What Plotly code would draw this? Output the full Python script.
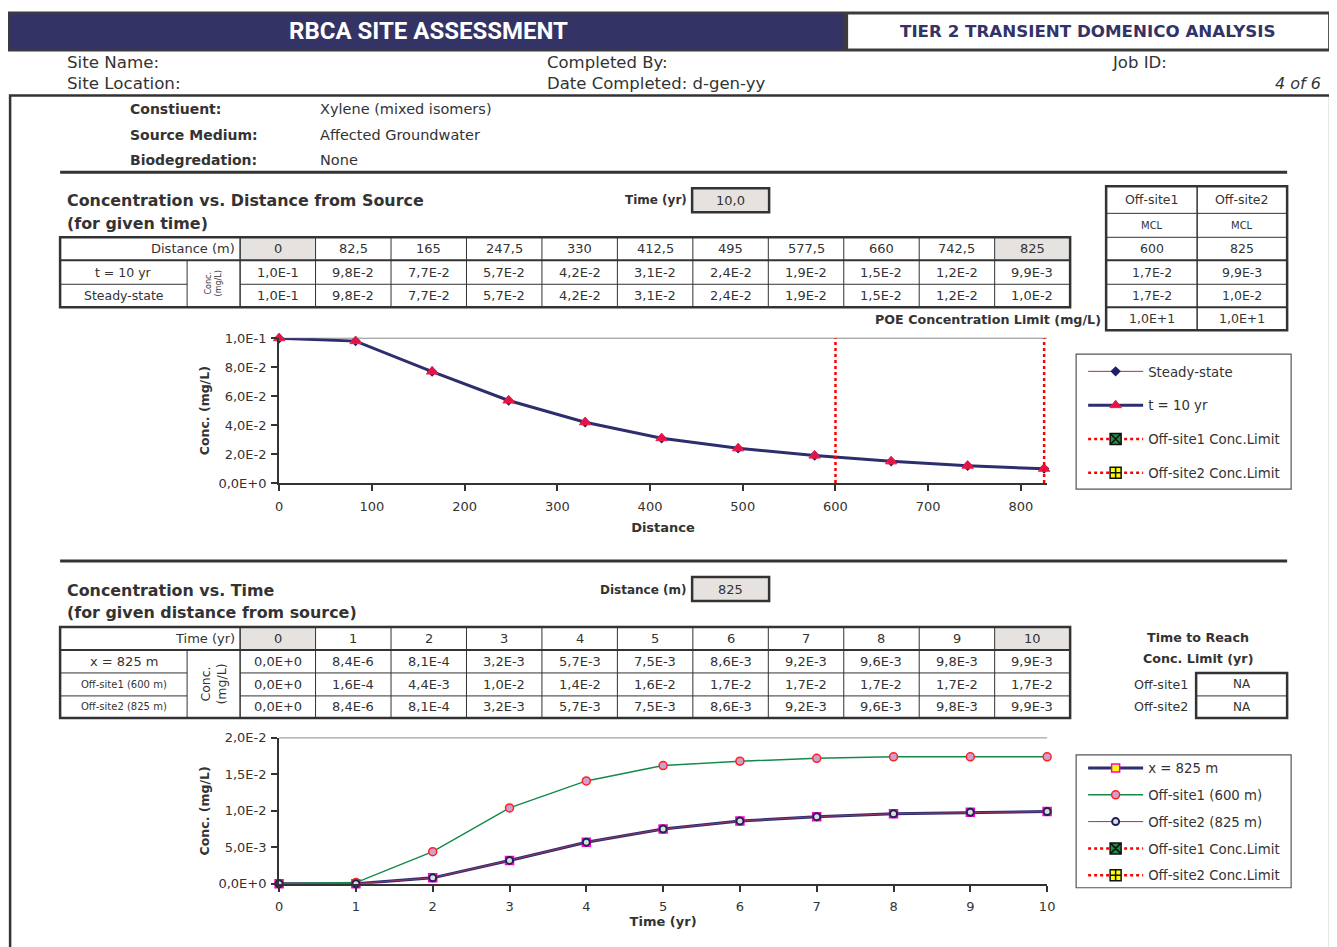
import math
import plotly.graph_objects as go

W, H = 1337, 947
# the page shows the figure with a small offset/scale; map target pixels to figure pixels
SX, BX = 0.991, 11.9
SY, BY = 0.985, 14.5

# ---------------- data ----------------
constituent = "Xylene (mixed isomers)"
source_medium = "Affected Groundwater"
biodegradation = "None"
given_time_yr = 10.0
given_distance_m = 825

distances_m = [0, 82.5, 165, 247.5, 330, 412.5, 495, 577.5, 660, 742.5, 825]
conc_t10 = [1.0e-1, 9.8e-2, 7.7e-2, 5.7e-2, 4.2e-2, 3.1e-2, 2.4e-2, 1.9e-2, 1.5e-2, 1.2e-2, 9.9e-3]
conc_steady = [1.0e-1, 9.8e-2, 7.7e-2, 5.7e-2, 4.2e-2, 3.1e-2, 2.4e-2, 1.9e-2, 1.5e-2, 1.2e-2, 1.0e-2]

offsite_names = ["Off-site1", "Off-site2"]
offsite_basis = ["MCL", "MCL"]
offsite_dist = [600, 825]
offsite_conc_t = [1.7e-2, 9.9e-3]
offsite_conc_ss = [1.7e-2, 1.0e-2]
poe_limit = [1.0e1, 1.0e1]
time_to_reach = ["NA", "NA"]

times_yr = [0, 1, 2, 3, 4, 5, 6, 7, 8, 9, 10]
conc_x825 = [0.0, 8.4e-6, 8.1e-4, 3.2e-3, 5.7e-3, 7.5e-3, 8.6e-3, 9.2e-3, 9.6e-3, 9.8e-3, 9.9e-3]
conc_off1 = [0.0, 1.6e-4, 4.4e-3, 1.04e-2, 1.41e-2, 1.62e-2, 1.68e-2, 1.72e-2, 1.74e-2, 1.74e-2, 1.74e-2]
conc_off2 = [0.0, 8.4e-6, 8.1e-4, 3.2e-3, 5.7e-3, 7.5e-3, 8.6e-3, 9.2e-3, 9.6e-3, 9.8e-3, 9.9e-3]

dist_ticks = [0, 100, 200, 300, 400, 500, 600, 700, 800]
conc_ticks1 = [0, 0.02, 0.04, 0.06, 0.08, 0.1]
time_ticks = [0, 1, 2, 3, 4, 5, 6, 7, 8, 9, 10]
conc_ticks2 = [0, 0.005, 0.01, 0.015, 0.02]

# ---------------- helpers ----------------
FONT = "DejaVu Sans"
TXT = "#333333"
GRAY = "#E6E2DF"
NAVY = "#333366"


def sci(v):
    if v == 0:
        return "0,0E+0"
    e = math.floor(math.log10(abs(v)))
    m = round(v / 10 ** e, 1)
    if abs(m) >= 10:
        m /= 10
        e += 1
    return f"{m:.1f}".replace(".", ",") + "E" + ("+" if e >= 0 else "-") + str(abs(e))


def num(v):
    return f"{v:g}".replace(".", ",")


def X(x):
    return ((x - BX) / SX) / W


def Y(y):
    return 1 - ((y - BY) / SY) / H


shapes = []
annotations = []


def rect(x0, y0, x1, y1, fill=None, lw=0, lc="#333333"):
    shapes.append(dict(type="rect", xref="paper", yref="paper",
                       x0=X(x0), x1=X(x1), y0=Y(y1), y1=Y(y0),
                       fillcolor=fill if fill else "rgba(0,0,0,0)",
                       line=dict(width=lw, color=lc)))


def hline(x0, x1, y, lw=1, color="#333333"):
    shapes.append(dict(type="line", xref="paper", yref="paper",
                       x0=X(x0), x1=X(x1), y0=Y(y), y1=Y(y),
                       line=dict(width=lw, color=color)))


def vline(x, y0, y1, lw=1, color="#333333"):
    shapes.append(dict(type="line", xref="paper", yref="paper",
                       x0=X(x), x1=X(x), y0=Y(y0), y1=Y(y1),
                       line=dict(width=lw, color=color)))


def txt(x, y, s, size=13, bold=False, anchor="left", color=TXT, italic=False,
        family=FONT, angle=0):
    if bold:
        s = f"<b>{s}</b>"
    if italic:
        s = f"<i>{s}</i>"
    annotations.append(dict(xref="paper", yref="paper", x=X(x), y=Y(y), text=s,
                            showarrow=False, xanchor=anchor, yanchor="middle",
                            textangle=angle,
                            font=dict(size=size, color=color, family=family)))


# ---------------- page header ----------------
rect(7, 11, 1331, 51, fill="#3c3c3c")
rect(9, 13, 844, 49, fill=NAVY)
rect(848, 14, 1328, 48, fill="white")
txt(428, 31, "RBCA SITE ASSESSMENT", size=24, bold=True, anchor="center",
    color="white", family="Roboto")
txt(1088, 31, "TIER 2 TRANSIENT DOMENICO ANALYSIS", size=16.7, bold=True,
    anchor="center", color=NAVY)

txt(65, 62, "Site Name:", size=16.7)
txt(65, 83, "Site Location:", size=16.7)
txt(545, 62, "Completed By:", size=16.5)
txt(545, 83, "Date Completed: d-gen-yy", size=16.5)
txt(1110, 62, "Job ID:", size=16.5)
txt(1323, 83, "4 of 6", size=16, italic=True, anchor="right")

# main frame
rect(10, 95, 1330, 1000, lw=2.5, lc="#333333")

# info block
txt(128, 109, "Constiuent:", size=14, bold=True)
txt(128, 135, "Source Medium:", size=14, bold=True)
txt(128, 160, "Biodegredation:", size=14, bold=True)
txt(318, 109, constituent, size=14.5)
txt(318, 135, source_medium, size=14.5)
txt(318, 160, biodegradation, size=14.5)

hline(60, 1287, 172, lw=3)
hline(60, 1287, 561, lw=3)

# ---------------- section 1 ----------------
txt(65, 200, "Concentration vs. Distance from Source", size=15.9, bold=True)
txt(65, 223, "(for given time)", size=15.9, bold=True)
txt(689, 200, "Time (yr)", size=12, bold=True, anchor="right")
rect(692, 188, 769, 212, fill=GRAY, lw=2.5)
txt(730.5, 200, f"{given_time_yr:.1f}".replace(".", ","), size=13, anchor="center")

TX0, TSPL, TD0, TX1 = 60, 187, 240, 1070
ncol = len(distances_m)
cw = (TX1 - TD0) / ncol
r1 = [237, 260, 284, 307]
rect(TD0, r1[0], TD0 + cw, r1[1], fill=GRAY)
rect(TX1 - cw, r1[0], TX1, r1[1], fill=GRAY)
hline(TX0, TX1, r1[1], lw=2)
hline(TX0, TSPL, r1[2], lw=1)
hline(TD0, TX1, r1[2], lw=1)
vline(TSPL, r1[1], r1[3], lw=1)
vline(TD0, r1[0], r1[3], lw=1.5)
for k in range(1, ncol):
    vline(TD0 + k * cw, r1[0], r1[3], lw=1)
rect(TX0, r1[0], TX1, r1[3], lw=2.5)
txt(TD0 - 3, (r1[0] + r1[1]) / 2, "Distance (m)", size=13, anchor="right")
txt((TX0 + TSPL) / 2, (r1[1] + r1[2]) / 2, f"t = {given_time_yr:g} yr", size=12.5, anchor="center")
txt((TX0 + TSPL) / 2, (r1[2] + r1[3]) / 2, "Steady-state", size=12.5, anchor="center")
txt((TSPL + TD0) / 2, (r1[1] + r1[3]) / 2, "Conc.<br>(mg/L)", size=8, anchor="center", angle=-90)
for k in range(ncol):
    cx = TD0 + (k + 0.5) * cw
    txt(cx, (r1[0] + r1[1]) / 2, num(distances_m[k]), size=13, anchor="center")
    txt(cx, (r1[1] + r1[2]) / 2, sci(conc_t10[k]), size=13, anchor="center")
    txt(cx, (r1[2] + r1[3]) / 2, sci(conc_steady[k]), size=13, anchor="center")

# off-site table
ox = [1106, 1197, 1287]
oy = [186, 213, 237, 260, 284, 307, 330]
for y in oy[1:-1]:
    hline(ox[0], ox[2], y, lw=2 if y in (260, 307) else 1)
vline(ox[1], oy[0], oy[-1], lw=1.5)
rect(ox[0], oy[0], ox[2], oy[-1], lw=2.5)
for i in range(2):
    cx = (ox[i] + ox[i + 1]) / 2
    txt(cx, (oy[0] + oy[1]) / 2, offsite_names[i], size=12.5, anchor="center")
    txt(cx, (oy[1] + oy[2]) / 2, offsite_basis[i], size=10, anchor="center")
    txt(cx, (oy[2] + oy[3]) / 2, num(offsite_dist[i]), size=12.5, anchor="center")
    txt(cx, (oy[3] + oy[4]) / 2, sci(offsite_conc_t[i]), size=12.5, anchor="center")
    txt(cx, (oy[4] + oy[5]) / 2, sci(offsite_conc_ss[i]), size=12.5, anchor="center")
    txt(cx, (oy[5] + oy[6]) / 2, sci(poe_limit[i]), size=12.5, anchor="center")
txt(1103, 319, "POE Concentration Limit (mg/L)", size=12.7, bold=True, anchor="right")

# legend frames
rect(1076, 354, 1291, 489, lw=1.2, lc="#555555")
rect(1076, 755, 1291, 888, lw=1.2, lc="#555555")

# ---------------- section 2 ----------------
txt(65, 590, "Concentration vs. Time", size=15.9, bold=True)
txt(65, 613, "(for given distance from source)", size=15.9, bold=True)
txt(689, 590, "Distance (m)", size=12, bold=True, anchor="right")
rect(692, 577, 769, 601, fill=GRAY, lw=2.5)
txt(730.5, 589, num(given_distance_m), size=13, anchor="center")

r2 = [627, 650, 673, 696, 718]
rect(TD0, r2[0], TD0 + cw, r2[1], fill=GRAY)
rect(TX1 - cw, r2[0], TX1, r2[1], fill=GRAY)
hline(TX0, TX1, r2[1], lw=2)
for y in r2[2:4]:
    hline(TX0, TSPL, y, lw=1)
    hline(TD0, TX1, y, lw=1)
vline(TSPL, r2[1], r2[4], lw=1)
vline(TD0, r2[0], r2[4], lw=1.5)
for k in range(1, ncol):
    vline(TD0 + k * cw, r2[0], r2[4], lw=1)
rect(TX0, r2[0], TX1, r2[4], lw=2.5)
txt(TD0 - 3, (r2[0] + r2[1]) / 2, "Time (yr)", size=13, anchor="right")
row_labels = [f"x = {given_distance_m} m",
              f"{offsite_names[0]} ({offsite_dist[0]} m)",
              f"{offsite_names[1]} ({offsite_dist[1]} m)"]
row_sizes = [13, 10, 10]
row_series = [conc_x825, conc_off1, conc_off2]
for j in range(3):
    cy = (r2[j + 1] + r2[j + 2]) / 2
    txt((TX0 + TSPL) / 2, cy, row_labels[j], size=row_sizes[j], anchor="center")
    for k in range(ncol):
        txt(TD0 + (k + 0.5) * cw, cy, sci(row_series[j][k]), size=13, anchor="center")
for k in range(ncol):
    txt(TD0 + (k + 0.5) * cw, (r2[0] + r2[1]) / 2, num(times_yr[k]), size=13, anchor="center")
txt((TSPL + TD0) / 2, (r2[1] + r2[4]) / 2, "Conc.<br>(mg/L)", size=12.5, anchor="center", angle=-90)

txt(1198, 638, "Time to Reach", size=12.7, bold=True, anchor="center")
txt(1198, 659, "Conc. Limit (yr)", size=12.7, bold=True, anchor="center")
rect(1196, 673, 1287, 718, lw=2.5)
hline(1196, 1287, 696, lw=1)
for i in range(2):
    cy = 684.5 + i * 22.5
    txt(1190, cy, offsite_names[i], size=12.7, anchor="right")
    txt(1241.5, cy, time_to_reach[i], size=12, anchor="center")

# ---------------- charts ----------------
fig = go.Figure()

LNAVY = "#2E2E6E"
MAROON = "#993366"

fig.add_trace(go.Scatter(
    x=distances_m, y=conc_steady, name="Steady-state", mode="lines+markers",
    line=dict(color=MAROON, width=1), cliponaxis=False,
    marker=dict(symbol="diamond", size=8, color="#1F1F6B"),
    legend="legend", legendgroup="a1", xaxis="x", yaxis="y"))
fig.add_trace(go.Scatter(
    x=distances_m, y=conc_t10, name=f"t = {given_time_yr:g} yr", mode="lines+markers",
    line=dict(color=LNAVY, width=3), cliponaxis=False,
    marker=dict(symbol="triangle-up", size=10, color="#E8104A",
                line=dict(color="#FF1A3C", width=1)),
    legend="legend", legendgroup="a2", xaxis="x", yaxis="y"))
lim_markers = [dict(symbol="square-x", size=11, color="#1E8C46", line=dict(color="#111111", width=1.5)),
               dict(symbol="square-cross", size=11, color="#FFFF00", line=dict(color="#111111", width=1.5))]
for i in range(2):
    fig.add_trace(go.Scatter(
        x=[offsite_dist[i], offsite_dist[i]], y=[0, poe_limit[i]], mode="lines",
        line=dict(color="#FF0000", width=2.5, dash="dot"), showlegend=False,
        legendgroup=f"a{i + 3}", xaxis="x", yaxis="y"))
    fig.add_trace(go.Scatter(
        x=[None], y=[None], mode="lines+markers", name=f"{offsite_names[i]} Conc.Limit",
        line=dict(color="#FF0000", width=2.5, dash="dot"), marker=lim_markers[i],
        legend="legend", legendgroup=f"a{i + 3}", xaxis="x", yaxis="y"))

fig.add_trace(go.Scatter(
    x=times_yr, y=conc_x825, name=f"x = {given_distance_m} m", mode="lines+markers",
    line=dict(color=LNAVY, width=3), cliponaxis=False,
    marker=dict(symbol="square", size=8, color="#FFFF00", line=dict(color="#FF00CC", width=1.5)),
    legend="legend2", legendgroup="b1", xaxis="x2", yaxis="y2"))
fig.add_trace(go.Scatter(
    x=times_yr, y=conc_off1, name=row_labels[1], mode="lines+markers",
    line=dict(color="#138A4A", width=1.5), cliponaxis=False,
    marker=dict(symbol="circle", size=8, color="#CFA0CF", line=dict(color="#FF2020", width=1.5)),
    legend="legend2", legendgroup="b2", xaxis="x2", yaxis="y2"))
fig.add_trace(go.Scatter(
    x=times_yr, y=conc_off2, name=row_labels[2], mode="lines+markers",
    line=dict(color=MAROON, width=1), cliponaxis=False,
    marker=dict(symbol="circle", size=7, color="#D8E2D0", line=dict(color="#1F1F5F", width=2)),
    legend="legend2", legendgroup="b3", xaxis="x2", yaxis="y2"))
for i in range(2):
    fig.add_trace(go.Scatter(
        x=[None], y=[None], mode="lines+markers", name=f"{offsite_names[i]} Conc.Limit",
        line=dict(color="#FF0000", width=2.5, dash="dot"), marker=lim_markers[i],
        legend="legend2", legendgroup=f"b{i + 4}", xaxis="x2", yaxis="y2"))

axis_common = dict(showline=True, linecolor="#333333", linewidth=2, ticks="outside",
                   ticklen=6, tickwidth=1.5, tickcolor="#333333", showgrid=False,
                   zeroline=False, tickfont=dict(size=13, color=TXT, family=FONT),
                   fixedrange=True)

PX_PER_M = (1044 - 279) / 825.0
fig.update_layout(
    width=W, height=H, autosize=False,
    margin=dict(l=0, r=0, t=0, b=0),
    paper_bgcolor="white", plot_bgcolor="white",
    font=dict(family=FONT, color=TXT),
    hovermode=False,
    shapes=shapes + [
        dict(type="line", xref="x domain", yref="y domain", x0=0, x1=1, y0=1, y1=1,
             line=dict(color="#8C8C8C", width=1), layer="below"),
        dict(type="line", xref="x2 domain", yref="y2 domain", x0=0, x1=1, y0=1, y1=1,
             line=dict(color="#8C8C8C", width=1), layer="below"),
    ],
    annotations=annotations,
    xaxis=dict(domain=[X(279), X(1044 + 3 * PX_PER_M)], range=[0, 828], tickvals=dist_ticks,
               ticktext=[num(v) for v in dist_ticks], anchor="y", ticklabelstandoff=4,
               title=dict(text="<b>Distance</b>", font=dict(size=13), standoff=10),
               **axis_common),
    yaxis=dict(domain=[Y(483), Y(338)], range=[0, 0.1], tickvals=conc_ticks1,
               ticktext=[sci(v) for v in conc_ticks1], anchor="x", ticklabelstandoff=2,
               title=dict(text="<b>Conc. (mg/L)</b>", font=dict(size=12.5), standoff=6),
               **axis_common),
    xaxis2=dict(domain=[X(279), X(1047)], range=[0, 10], tickvals=time_ticks,
                ticktext=[num(v) for v in time_ticks], anchor="y2", ticklabelstandoff=4,
                title=dict(text="<b>Time (yr)</b>", font=dict(size=13), standoff=4),
                **axis_common),
    yaxis2=dict(domain=[Y(884), Y(738)], range=[0, 0.02], tickvals=conc_ticks2,
                ticktext=[sci(v) for v in conc_ticks2], anchor="x2", ticklabelstandoff=2,
                title=dict(text="<b>Conc. (mg/L)</b>", font=dict(size=12.5), standoff=6),
                **axis_common),
    legend=dict(x=X(1083), y=Y(356), xanchor="left", yanchor="top", itemwidth=55,
                bgcolor="rgba(0,0,0,0)", borderwidth=0, tracegroupgap=13.5,
                traceorder="grouped", font=dict(size=13.3, color=TXT, family=FONT)),
    legend2=dict(x=X(1083), y=Y(753), xanchor="left", yanchor="top", itemwidth=55,
                 bgcolor="rgba(0,0,0,0)", borderwidth=0, tracegroupgap=6.5,
                 traceorder="grouped", font=dict(size=13.3, color=TXT, family=FONT)),
)

fig.write_html("out.html")
